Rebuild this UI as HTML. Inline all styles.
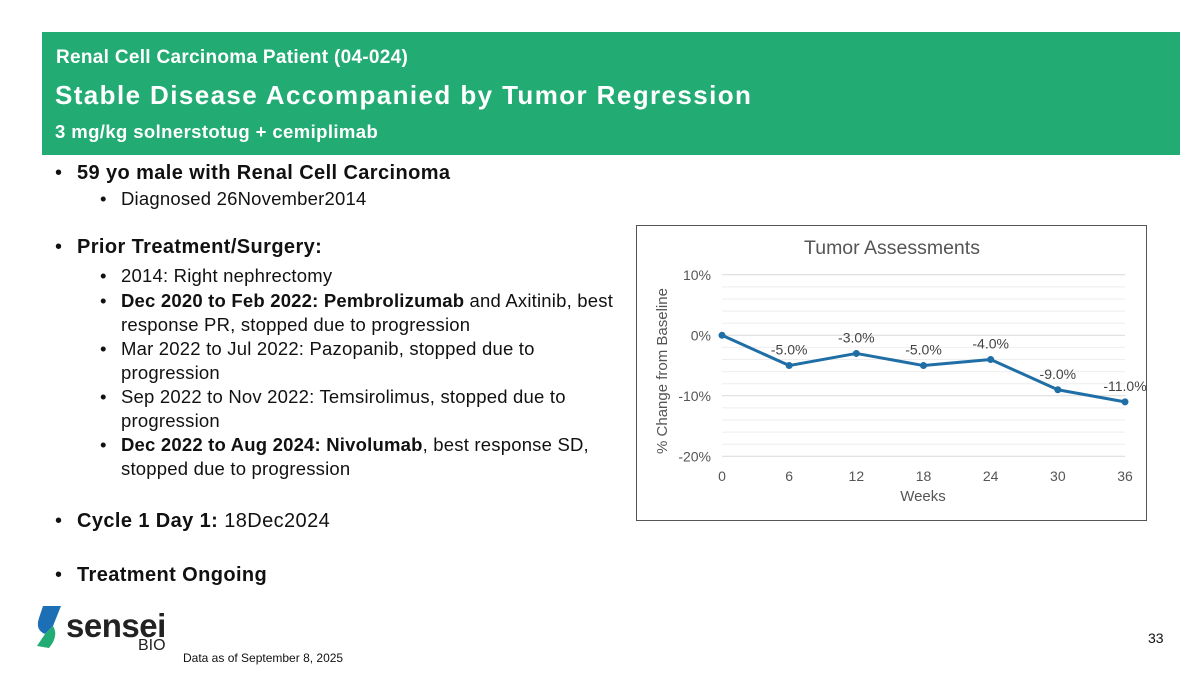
<!DOCTYPE html>
<html><head><meta charset="utf-8"><style>
body{margin:0;width:1200px;height:675px;background:#fff;font-family:"Liberation Sans",sans-serif;position:relative;overflow:hidden}
.abs{position:absolute}
.hdr{left:42px;top:32px;width:1138px;height:123px;background:#22ac74;color:#fff}
.b1{font-size:20px;color:#111;position:absolute;left:55px}
.b1:before{content:"•";position:absolute;left:0}
.b1 span{position:absolute;left:22px;white-space:nowrap;letter-spacing:0.4px}
.b2{font-size:18.5px;color:#111;position:absolute;left:100px;line-height:24px}
.b2:before{content:"•";position:absolute;left:0}
.b2 .t{position:absolute;left:21px;white-space:nowrap;letter-spacing:0.2px}
</style></head><body>
<div class="abs hdr">
<div class="abs" style="left:14px;top:15px;font-size:19px;font-weight:bold;letter-spacing:0.3px">Renal Cell Carcinoma Patient (04-024)</div>
<div class="abs" style="left:13px;top:48px;font-size:26px;font-weight:bold;letter-spacing:1.4px">Stable Disease Accompanied by Tumor Regression</div>
<div class="abs" style="left:13px;top:89px;font-size:18.5px;font-weight:bold;letter-spacing:0.4px">3 mg/kg solnerstotug + cemiplimab</div>
</div>
<div>
<div class="b1" style="top:162px"><span><b>59 yo male with Renal Cell Carcinoma</b></span></div>
<div class="b2" style="top:187px"><span class="t">Diagnosed 26November2014</span></div>
<div class="b1" style="top:236px"><span><b>Prior Treatment/Surgery:</b></span></div>
<div class="b2" style="top:264px"><span class="t">2014: Right nephrectomy</span></div>
<div class="b2" style="top:289px"><span class="t"><b>Dec 2020 to Feb 2022: Pembrolizumab</b> and Axitinib, best<br>response PR, stopped due to progression</span></div>
<div class="b2" style="top:337px"><span class="t">Mar 2022 to Jul 2022: Pazopanib, stopped due to<br>progression</span></div>
<div class="b2" style="top:385px"><span class="t">Sep 2022 to Nov 2022: Temsirolimus, stopped due to<br>progression</span></div>
<div class="b2" style="top:433px"><span class="t"><b>Dec 2022 to Aug 2024: Nivolumab</b>, best response SD,<br>stopped due to progression</span></div>
<div class="b1" style="top:510px"><span><b>Cycle 1 Day 1:</b> 18Dec2024</span></div>
<div class="b1" style="top:564px"><span><b>Treatment Ongoing</b></span></div>
</div>
<svg class="abs" style="left:0;top:0" width="1200" height="675" id="chart">
<rect x="636.5" y="225.5" width="510" height="295" fill="#fff" stroke="#555"/>
<text x="892" y="254" text-anchor="middle" font-size="19.5" fill="#555">Tumor Assessments</text>
<text transform="translate(667,371) rotate(-90)" text-anchor="middle" font-size="15" fill="#555">% Change from Baseline</text>
<text x="923" y="501" text-anchor="middle" font-size="15" fill="#555">Weeks</text>
<g id="g"></g>
</svg>
<div class="abs" style="left:35px;top:604px">
<svg width="30" height="46"><path d="M8 2 L26 2 L18 22 L10 30 Q0 26 4 14Z" fill="#1d6fb5"/><path d="M10 30 L18 22 Q24 32 14 44 L2 42 Z" fill="#22ac74"/></svg>
<div class="abs" style="left:31px;top:3px;font-size:33px;font-weight:bold;color:#222;letter-spacing:-0.5px">sensei</div>
<div class="abs" style="left:103px;top:33px;font-size:16px;color:#222">BIO</div>
</div>
<div class="abs" style="left:183px;top:651px;font-size:12px;color:#111">Data as of September 8, 2025</div>
<div class="abs" style="left:1148px;top:630px;font-size:14px;color:#111">33</div>
<script>
const weeks=[0,6,12,18,24,30,36];
const values=[0,-5,-3,-5,-4,-9,-11];
const labels=["","-5.0%","-3.0%","-5.0%","-4.0%","-9.0%","-11.0%"];
const yTicks=[10,0,-10,-20];
const NS="http://www.w3.org/2000/svg";
const g=document.getElementById('g');
const X=w=>722+(w-0)/(36-0)*(1125-722);
const Y=v=>335.3-v*6.05;
function el(t,a){const e=document.createElementNS(NS,t);for(const k in a)e.setAttribute(k,a[k]);g.appendChild(e);return e;}
for(let v=-20;v<=10;v+=2){const l=el('line',{x1:722,x2:1125,y1:Y(v),y2:Y(v),stroke:v%10===0?'#d9d9d9':'#eeeeee','stroke-width':1});

}
yTicks.forEach(v=>{const t=el('text',{x:711,y:Y(v)+5,'text-anchor':'end','font-size':14,fill:'#555'});t.textContent=v+'%';

});
weeks.forEach(w=>{const t=el('text',{x:X(w),y:481,'text-anchor':'middle','font-size':14,fill:'#555'});t.textContent=w;

});
const p=el('polyline',{points:weeks.map((w,i)=>X(w)+','+Y(values[i])).join(' '),fill:'none',stroke:'#1f6ea6','stroke-width':3,'stroke-linejoin':'round'});


weeks.forEach((w,i)=>{const c=el('circle',{cx:X(w),cy:Y(values[i]),r:3.5,fill:'#1f6ea6'});


if(labels[i]){const t=el('text',{x:X(w),y:Y(values[i])-11,'text-anchor':'middle','font-size':14,fill:'#444'});t.textContent=labels[i];

}});
</script>
</body></html>
